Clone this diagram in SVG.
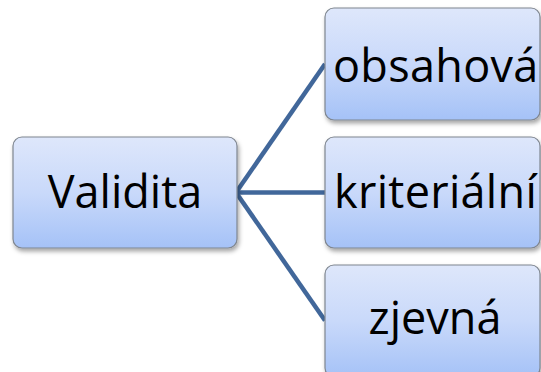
<svg xmlns="http://www.w3.org/2000/svg" width="541" height="372" viewBox="0 0 541 372">
<defs>
<linearGradient id="g" x1="0" y1="0" x2="0" y2="1">
<stop offset="0" stop-color="#DEE7FB"/>
<stop offset="0.5" stop-color="#C9D9FA"/>
<stop offset="1" stop-color="#A5C2F7"/>
</linearGradient>
<filter id="sh" x="-10%" y="-10%" width="125%" height="130%">
<feDropShadow dx="1.5" dy="3" stdDeviation="2" flood-color="#000" flood-opacity="0.35"/>
</filter>
<style>
.box{fill:url(#g);stroke:#7F8690;stroke-width:1.2;filter:url(#sh)}
.t{font-family:"Open Sans","Noto Sans",sans-serif;font-size:45px;fill:#000}
.m{text-anchor:middle}
.c{fill:none;stroke:#41679A;stroke-width:4.5;stroke-linecap:butt}
</style>
</defs>
<g id="connectors">
<path class="c" d="M236,192.5 L325,64"/>
<path class="c" d="M236,192.5 L325,192.5"/>
<path class="c" d="M236,192.5 L325,320.5"/>
</g>
<g id="validita">
<rect class="box" x="13" y="137" width="224" height="111" rx="9"/>
<text class="t m" x="125" y="208">Validita</text>
</g>
<g id="obsahova">
<rect class="box" x="325" y="8" width="215" height="112" rx="9"/>
<text class="t" x="333" y="82" letter-spacing="0.3">obsahová</text>
</g>
<g id="kriterialni">
<rect class="box" x="325" y="137" width="215" height="111" rx="9"/>
<text class="t" x="334" y="208" letter-spacing="0.3">kriteriální</text>
</g>
<g id="zjevna">
<rect class="box" x="325" y="265" width="215" height="112" rx="9"/>
<text class="t m" x="435" y="334">zjevná</text>
</g>
</svg>
